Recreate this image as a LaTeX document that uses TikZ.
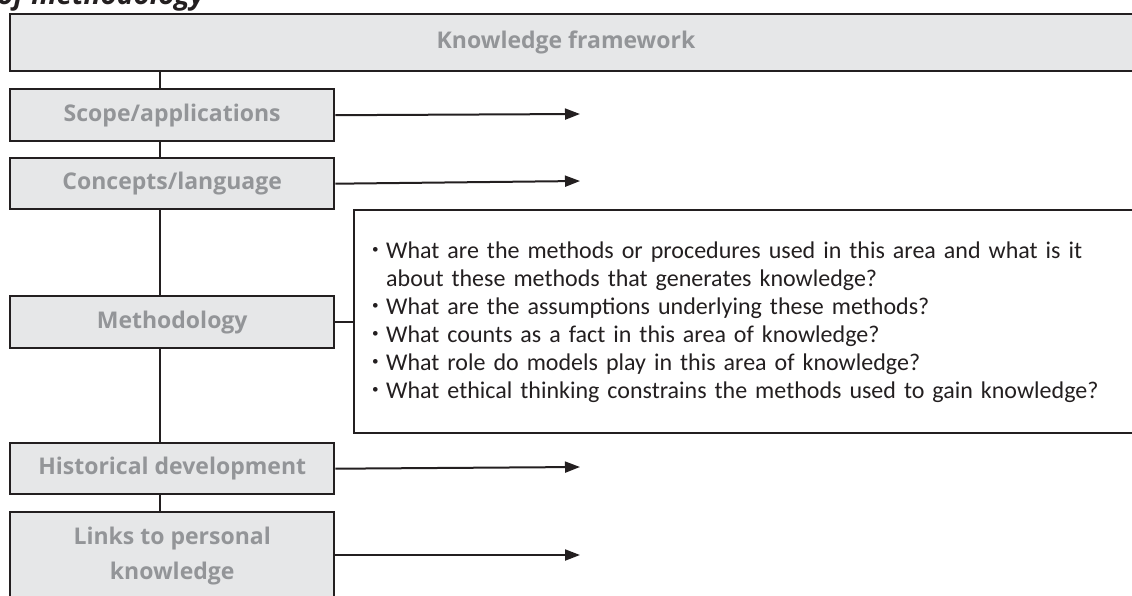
\documentclass[tikz,border=0pt]{standalone}
\usepackage{fontspec}
\setmainfont{Carlito}
\newfontfamily\labelfont{Open Sans}
\usetikzlibrary{arrows.meta}
\definecolor{linec}{HTML}{231F20}
\definecolor{boxfill}{HTML}{E6E7E8}
\definecolor{labelc}{HTML}{939598}
\definecolor{textc}{HTML}{231F20}
\tikzset{
  lbl/.style={text=labelc, font=\labelfont\bfseries\fontsize{23}{35}\selectfont},
  box/.style={draw=linec, line width=2.4pt, fill=boxfill, lbl, align=center, inner sep=0pt,
    anchor=north west},
  link/.style={draw=linec, line width=2.2pt},
  arr/.style={draw=linec, line width=2pt, -{Triangle[length=15pt,width=11pt]}},
  qbox/.style={draw=linec, line width=2.2pt, fill=white, anchor=north west,
    inner sep=0pt, minimum height=223pt, minimum width=820pt},
  qtext/.style={text=textc, inner sep=0pt, align=left, text width=760pt, anchor=west,
    font=\fontsize{24}{28}\selectfont}
}
\newcommand{\bul}{\makebox[14pt][l]{\raisebox{0.4ex}{\scalebox{0.55}{•}}}}
\begin{document}
\begin{tikzpicture}[x=1pt,y=-1pt]
\useasboundingbox (0,0) rectangle (1132,595);
\clip (0,0) rectangle (1132,595);
\node[anchor=base west, inner sep=0pt, text=textc, font=\labelfont\bfseries\itshape\fontsize{28}{30}\selectfont] (title) at (-3,4) {of methodology};
\node[box, minimum width=1140pt, minimum height=57pt] (kf) at (9,13) {};
\node[lbl] (kft) at (566,42) {Knowledge framework};
\node[box, minimum width=324pt, minimum height=52pt] (scope) at (9,88) {Scope/applications};
\node[box, minimum width=324pt, minimum height=51pt] (conc) at (9,157) {Concepts/language};
\node[box, minimum width=324pt, minimum height=52pt] (meth) at (9,295) {Methodology};
\node[box, minimum width=324pt, minimum height=51pt] (hist) at (9,442) {Historical development};
\node[box, minimum width=324pt, minimum height=88pt] (links) at (9,511) {Links to personal\\knowledge};
\node[qbox] (q) at (353,209) {};
\node[qtext] (qt) at (372,322) {%
\bul What are the methods or procedures used in this area and what is it\\
\hspace*{14pt}about these methods that generates knowledge?\\
\bul What are the assumptions underlying these methods?\\
\bul What counts as a fact in this area of knowledge?\\
\bul What role do models play in this area of knowledge?\\
\bul What ethical thinking constrains the methods used to gain knowledge?};
\draw[link] (kf.south -| 160,0) -- (scope.north -| 160,0);
\draw[link] (scope.south -| 160,0) -- (conc.north -| 160,0);
\draw[link] (conc.south -| 160,0) -- (meth.north -| 160,0);
\draw[link] (meth.south -| 160,0) -- (hist.north -| 160,0);
\draw[link] (hist.south -| 160,0) -- (links.north -| 160,0);
\draw[link] (meth.east) -- (meth.east -| q.west);
\coordinate (e1) at (580,114);
\coordinate (e2) at (580,181);
\coordinate (e3) at (580,467);
\coordinate (e4) at (580,555);
\draw[arr] (scope.east) -- (e1);
\draw[arr] (conc.east) -- (e2);
\draw[arr] (hist.east) -- (e3);
\draw[arr] (links.east |- e4) -- (e4);
\end{tikzpicture}
\end{document}
